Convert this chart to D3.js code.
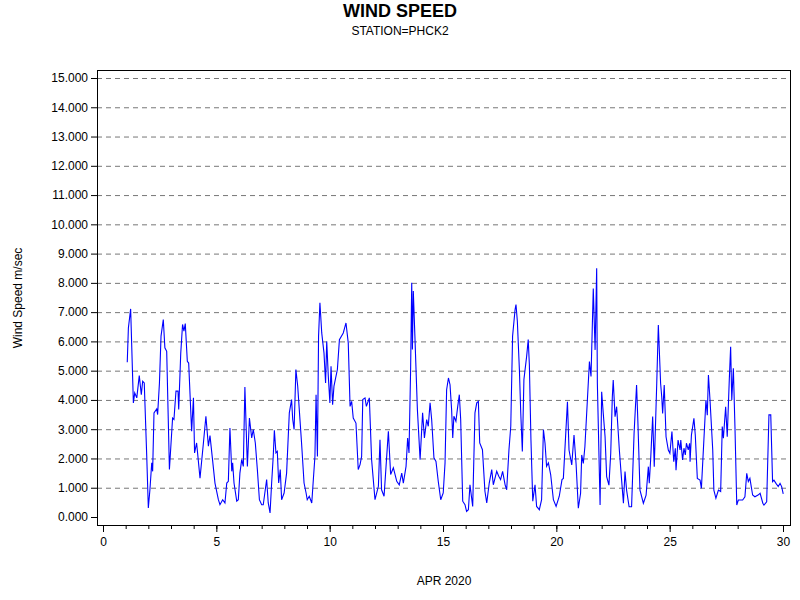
<!DOCTYPE html>
<html><head><meta charset="utf-8">
<script src="https://cdn.jsdelivr.net/npm/d3@7"></script>
<style>body{margin:0;background:#fff}svg{font-family:Arial,"Liberation Sans",sans-serif}</style>
</head><body><svg id="c" width="800" height="600"></svg>
<script>
const days = [1.07,1.12,1.22,1.34,1.4,1.49,1.6,1.69,1.75,1.82,1.93,2.0,2.07,2.15,2.19,2.25,2.37,2.41,2.49,2.56,2.66,2.73,2.81,2.93,3.07,3.13,3.22,3.31,3.34,3.43,3.51,3.57,3.63,3.72,3.78,3.91,3.99,4.04,4.13,4.28,4.43,4.54,4.65,4.72,4.84,4.94,5.09,5.16,5.28,5.38,5.46,5.53,5.6,5.68,5.72,5.78,5.9,5.97,6.04,6.12,6.19,6.26,6.37,6.46,6.56,6.63,6.72,6.81,6.9,7.0,7.07,7.15,7.22,7.29,7.37,7.44,7.51,7.56,7.63,7.69,7.75,7.82,7.88,7.99,8.1,8.22,8.32,8.37,8.43,8.51,8.59,8.65,8.76,8.87,8.96,9.01,9.1,9.21,9.28,9.35,9.4,9.46,9.51,9.57,9.65,9.75,9.82,9.87,9.94,10.01,10.06,10.13,10.19,10.28,10.34,10.43,10.6,10.72,10.82,10.9,10.97,11.04,11.16,11.26,11.34,11.41,11.46,11.56,11.62,11.75,11.85,12.0,12.15,12.22,12.29,12.4,12.59,12.69,12.81,12.96,13.07,13.18,13.25,13.37,13.44,13.5,13.57,13.62,13.65,13.69,13.76,13.87,13.99,14.1,14.18,14.28,14.35,14.43,14.5,14.6,14.69,14.79,14.9,15.01,15.09,15.16,15.24,15.31,15.38,15.43,15.48,15.57,15.65,15.72,15.78,15.87,15.97,16.04,16.12,16.19,16.31,16.41,16.49,16.56,16.62,16.74,16.85,16.93,17.04,17.15,17.22,17.37,17.46,17.54,17.63,17.74,17.81,17.91,17.99,18.07,18.18,18.22,18.28,18.37,18.43,18.5,18.57,18.69,18.76,18.81,18.88,18.96,19.06,19.13,19.25,19.35,19.43,19.5,19.57,19.65,19.75,19.87,19.99,20.13,20.25,20.31,20.49,20.56,20.68,20.78,20.87,20.97,21.07,21.12,21.19,21.26,21.37,21.46,21.53,21.63,21.71,21.78,21.81,21.93,22.0,22.07,22.15,22.22,22.32,22.4,22.47,22.51,22.59,22.66,22.78,22.88,22.96,23.03,23.1,23.21,23.32,23.43,23.54,23.6,23.69,23.84,23.96,24.06,24.1,24.16,24.25,24.32,24.43,24.5,24.6,24.65,24.69,24.76,24.84,24.94,25.01,25.1,25.18,25.25,25.28,25.37,25.46,25.49,25.57,25.63,25.69,25.74,25.82,25.88,25.9,25.96,26.07,26.13,26.22,26.34,26.4,26.6,26.66,26.71,26.78,26.9,26.95,27.04,27.15,27.25,27.32,27.37,27.47,27.54,27.63,27.69,27.74,27.81,27.88,27.96,28.03,28.22,28.32,28.4,28.47,28.54,28.66,28.76,28.9,28.99,29.11,29.16,29.28,29.38,29.46,29.54,29.6,29.69,29.79,29.87,29.94,30.01];
const speeds = [5.29,6.46,7.11,3.9,4.24,4.07,4.83,4.18,4.64,4.58,2.07,0.31,0.93,1.85,1.56,3.56,3.69,3.5,4.58,6.18,6.75,5.78,5.66,1.62,3.38,3.33,4.3,4.3,3.67,5.6,6.58,6.35,6.61,5.32,5.26,2.93,4.07,2.19,2.53,1.33,2.53,3.44,2.42,2.78,1.9,1.16,0.59,0.42,0.59,0.48,1.16,1.22,3.04,1.56,1.85,1.16,0.54,0.59,1.5,1.96,1.73,4.44,1.73,3.38,2.7,2.99,2.53,1.62,0.59,0.42,0.42,0.88,1.28,0.48,0.14,1.16,2.07,2.96,2.19,2.24,1.16,1.62,0.59,0.82,1.5,3.56,4.01,3.33,2.99,5.04,4.47,3.78,2.53,1.16,0.82,0.59,0.71,0.48,1.28,2.07,4.18,2.07,6.18,7.32,6.29,5.6,4.58,6.0,4.81,3.9,5.15,3.84,4.47,4.81,5.04,6.06,6.29,6.63,5.95,3.78,3.95,3.38,3.21,1.62,1.79,2.07,4.01,4.07,3.78,4.07,1.96,0.59,1.05,2.64,0.93,0.71,2.93,1.45,1.68,1.22,1.1,1.5,1.16,1.73,2.7,2.19,4.98,8.0,5.72,7.72,6.18,3.67,1.96,3.56,2.7,3.33,3.1,3.9,3.33,2.02,1.9,1.22,0.59,0.82,1.85,4.35,4.75,4.52,3.67,2.7,3.44,3.27,3.78,4.18,3.33,0.54,0.42,0.19,0.25,1.1,0.36,3.56,3.9,3.95,2.53,2.3,0.88,0.48,1.16,1.62,1.1,1.56,1.39,1.28,1.56,1.1,0.93,2.3,3.1,6.18,7.09,7.26,6.69,5.04,3.56,2.24,4.7,5.49,6.06,5.21,2.64,0.54,1.1,0.36,0.25,0.59,2.99,2.53,1.73,1.85,1.45,0.59,0.36,0.71,1.28,1.32,3.94,2.29,1.78,2.8,1.83,0.3,0.81,2.12,1.83,2.4,4.0,5.31,4.8,7.81,5.71,8.5,4.57,0.41,4.28,3.54,2.74,1.38,1.09,2.18,4.11,4.68,3.43,3.77,2.29,1.26,0.47,1.55,0.92,0.35,0.35,2.86,4.51,3.2,0.92,0.47,0.75,1.72,1.15,1.95,3.43,1.72,4.57,6.56,4.57,4.11,3.54,4.51,2.74,2.29,2.18,2.92,1.89,2.35,1.6,2.63,2.29,2.63,1.95,2.35,2.12,2.52,2.29,2.52,1.89,2.8,3.37,2.8,1.32,1.26,0.98,4.0,3.48,4.85,4.0,2.29,0.92,0.64,0.92,0.87,3.09,2.69,3.77,2.74,4.68,5.82,4.0,5.08,3.09,0.41,0.58,0.58,0.69,1.49,1.21,1.32,0.75,0.69,0.75,0.81,0.47,0.41,0.52,3.49,3.49,1.21,1.26,1.15,1.04,1.15,1.04,0.79];
const yTicks = d3.range(0,16);
const xTicks = [0,5,10,15,20,25,30];

const svg = d3.select("#c");
const L=97,R=790,T=70,B=525;
const x = d3.scaleLinear().domain([0,30]).range([103,783]);
const y = d3.scaleLinear().domain([0,15]).range([517,78]);

svg.append("text").attr("x",400).attr("y",17).attr("text-anchor","middle").attr("font-size",18).attr("font-weight","bold").text("WIND SPEED");
svg.append("text").attr("x",400).attr("y",35).attr("text-anchor","middle").attr("font-size",12).text("STATION=PHCK2");

svg.append("g").selectAll("line").data(yTicks.slice(1)).join("line")
  .attr("x1",L).attr("x2",R).attr("y1",d=>y(d)+0.5).attr("y2",d=>y(d)+0.5)
  .attr("stroke","#777").attr("stroke-dasharray","5,4");

svg.append("g").attr("transform",`translate(${L},0)`)
  .call(d3.axisLeft(y).tickValues(yTicks).tickFormat(d3.format(".3f")).tickSize(6).tickPadding(3))
  .call(g=>{g.select(".domain").remove();g.selectAll("text").attr("font-size",12).attr("fill","#000");});
svg.append("g").attr("transform",`translate(0,${B})`)
  .call(d3.axisBottom(x).tickValues(d3.range(0,31)).tickFormat("").tickSize(4))
  .call(g=>g.select(".domain").remove());
svg.append("g").attr("transform",`translate(0,${B})`)
  .call(d3.axisBottom(x).tickValues(xTicks).tickFormat(d3.format("d")).tickSize(7).tickPadding(5))
  .call(g=>{g.select(".domain").remove();g.selectAll("text").attr("font-size",12).attr("fill","#000");});

svg.append("rect").attr("x",L+0.5).attr("y",T+0.5).attr("width",R-L).attr("height",B-T).attr("fill","none").attr("stroke","#000");

const pts = days.map((d,i)=>[d,speeds[i]]);
svg.append("path").datum(pts).attr("fill","none").attr("stroke","#0000ff").attr("stroke-width",1.1)
  .attr("d",d3.line().x(d=>x(d[0])).y(d=>y(d[1])));

svg.append("text").attr("x",444).attr("y",585).attr("text-anchor","middle").attr("font-size",12).text("APR 2020");
svg.append("text").attr("transform","translate(22,298) rotate(-90)").attr("text-anchor","middle").attr("font-size",12).text("Wind Speed m/sec");
</script></body></html>
